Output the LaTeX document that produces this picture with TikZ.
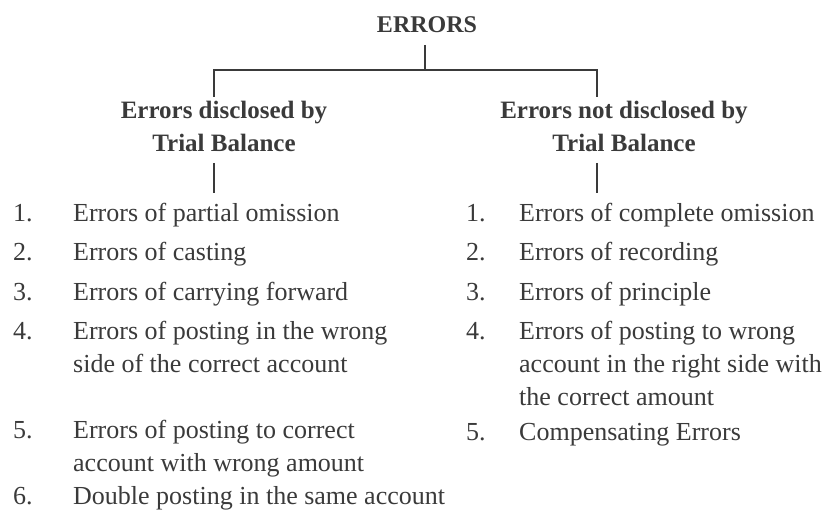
\documentclass[tikz,border=0pt]{standalone}
\usepackage{fontspec}
\setmainfont{Liberation Serif}
\definecolor{ink}{HTML}{3A3A3A}
\tikzset{
  title/.style={font=\fontsize{24}{28}\selectfont\bfseries, text=ink, inner sep=0pt, anchor=base},
  head/.style={font=\fontsize{25}{30}\selectfont\bfseries, text=ink, inner sep=0pt, anchor=base},
  item/.style={font=\fontsize{26}{30}\selectfont, text=ink, inner sep=0pt, anchor=base west},
  conn/.style={draw=ink, line width=2.6pt, line join=miter}
}
% item number set in a fixed-width box so the item text lines up
\newcommand{\num}[2]{\makebox[#1][l]{#2}}
\begin{document}
\begin{tikzpicture}[x=1pt, y=-1pt]
  \useasboundingbox (0,0) rectangle (833,513);

  % root
  \node[title] (errors) at (427,33) {ERRORS};

  % branch headings
  \node[head] (lh1) at (224,119) {Errors disclosed by};
  \node[head] (lh2) at (224,152) {Trial Balance};
  \node[head] (rh1) at (624,119) {Errors not disclosed by};
  \node[head] (rh2) at (624,152) {Trial Balance};

  % connector points
  \coordinate (jt) at (425,70);
  \coordinate (jl) at (214,70);
  \coordinate (jr) at (597,70);
  \coordinate (ltop) at (214,97);
  \coordinate (rtop) at (597,97);
  \coordinate (lbot1) at (214,163);
  \coordinate (lbot2) at (214,193);
  \coordinate (rbot1) at (597,163);
  \coordinate (rbot2) at (597,193);

  \draw[conn] (errors.base -| jt) ++(0,12) -- (jt);
  \draw[conn] (ltop) -- (jl) -- (jr) -- (rtop);
  \draw[conn] (lbot1) -- (lbot2);
  \draw[conn] (rbot1) -- (rbot2);

  % errors disclosed by the trial balance
  \node[item] (l1)  at (13,222) {\num{60pt}{1.}Errors of partial omission};
  \node[item] (l2)  at (13,261) {\num{60pt}{2.}Errors of casting};
  \node[item] (l3)  at (13,300) {\num{60pt}{3.}Errors of carrying forward};
  \node[item] (l4)  at (13,339) {\num{60pt}{4.}Errors of posting in the wrong};
  \node[item] (l4b) at (73,372) {side of the correct account};
  \node[item] (l5)  at (13,438) {\num{60pt}{5.}Errors of posting to correct};
  \node[item] (l5b) at (73,471) {account with wrong amount};
  \node[item] (l6)  at (13,504) {\num{60pt}{6.}Double posting in the same account};

  % errors not disclosed by the trial balance
  \node[item] (r1)  at (466,222) {\num{53pt}{1.}Errors of complete omission};
  \node[item] (r2)  at (466,261) {\num{53pt}{2.}Errors of recording};
  \node[item] (r3)  at (466,300) {\num{53pt}{3.}Errors of principle};
  \node[item] (r4)  at (466,339) {\num{53pt}{4.}Errors of posting to wrong};
  \node[item] (r4b) at (519,372) {account in the right side with};
  \node[item] (r4c) at (519,405) {the correct amount};
  \node[item] (r5)  at (466,440) {\num{53pt}{5.}Compensating Errors};
\end{tikzpicture}
\end{document}
